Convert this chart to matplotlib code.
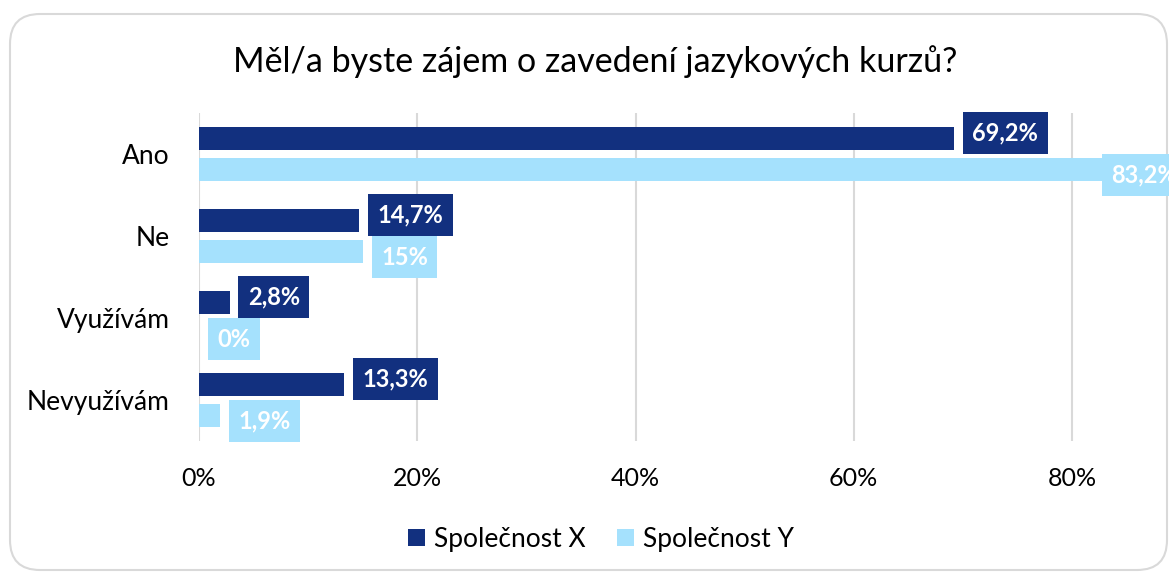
import matplotlib
matplotlib.use("Agg")
import matplotlib.pyplot as plt
from matplotlib.patches import FancyBboxPatch
from matplotlib.transforms import IdentityTransform
import numpy as np

categories = ["Ano", "Ne", "Využívám", "Nevyužívám"]
series_names = ["Společnost X", "Společnost Y"]
values_x = [69.2, 14.7, 2.8, 13.3]
values_y = [83.2, 15.0, 0.0, 1.9]
labels_x = ["69,2%", "14,7%", "2,8%", "13,3%"]
labels_y = ["83,2%", "15%", "0%", "1,9%"]
xticks = [0, 20, 40, 60, 80]
xticklabels = ["0%", "20%", "40%", "60%", "80%"]
title = "Měl/a byste zájem o zavedení jazykových kurzů?"

col_x = "#12307F"
col_y = "#A5E1FD"

plt.rcParams['font.family'] = ['Lato', 'DejaVu Sans']

W, H = 1169, 572
fig = plt.figure(figsize=(W / 100, H / 100), dpi=100)

# rounded border (pixel coordinates, origin bottom-left)
border = FancyBboxPatch((10, H - 570), 1167 - 10, 570 - 14,
                        boxstyle="round,pad=0,rounding_size=30",
                        transform=IdentityTransform(), facecolor="white",
                        edgecolor="#d9d9d9", linewidth=1.5, zorder=-5)
fig.patches.append(border)

x0, x80 = 199, 1072
px_per = (x80 - x0) / 80
xmax = (W - x0) / px_per
ax = fig.add_axes([x0 / W, 1 - 441 / H, 1 - x0 / W, (441 - 113) / H])
ax.set_facecolor("none")
ax.set_xlim(0, xmax)
ax.set_ylim(3.5, -0.5)

pos = np.arange(len(categories))
bh = 0.29
off = 0.19
ax.barh(pos - off, values_x, height=bh, color=col_x, zorder=3, label=series_names[0])
ax.barh(pos + off, values_y, height=bh, color=col_y, zorder=3, label=series_names[1])

gap_pt = 13.2        # distance label anchor -> text start
label_limit = 81.9   # labels are pushed back so they start no later than this (data units)

def put_label(x, y, text, color):
    anchor = min(x, label_limit)
    ax.annotate(text, (anchor, y), xytext=(gap_pt, 0), textcoords="offset points",
                ha="left", va="center", color="white", fontsize=17, fontweight="bold",
                bbox=dict(boxstyle="square,pad=0.4", fc=color, ec="none"),
                annotation_clip=False, zorder=5)

for p, v, l in zip(pos, values_x, labels_x):
    put_label(v, p - off - 0.07, l, col_x)
for p, v, l in zip(pos, values_y, labels_y):
    put_label(v, p + off + 0.07, l, col_y)

ax.set_xticks(xticks)
ax.set_xticklabels(xticklabels, fontsize=18)
ax.set_yticks(pos)
ax.set_yticklabels(categories, fontsize=19)
ax.tick_params(axis="both", length=0, colors="black")
ax.tick_params(axis="x", pad=19)
ax.tick_params(axis="y", pad=21)
ax.grid(axis="x", color="#d9d9d9", linewidth=1.5, zorder=0)
for s in ax.spines.values():
    s.set_visible(False)

fig.text(595 / W, 1 - 62 / H, title, ha="center", va="center", fontsize=24.5)

leg = fig.legend(loc="center", bbox_to_anchor=(601 / W, 1 - 539 / H), ncol=2,
                 frameon=False, fontsize=19, handlelength=0.62, handleheight=0.62,
                 handletextpad=0.35, columnspacing=1.2)

fig.savefig("out.png", dpi=100)
